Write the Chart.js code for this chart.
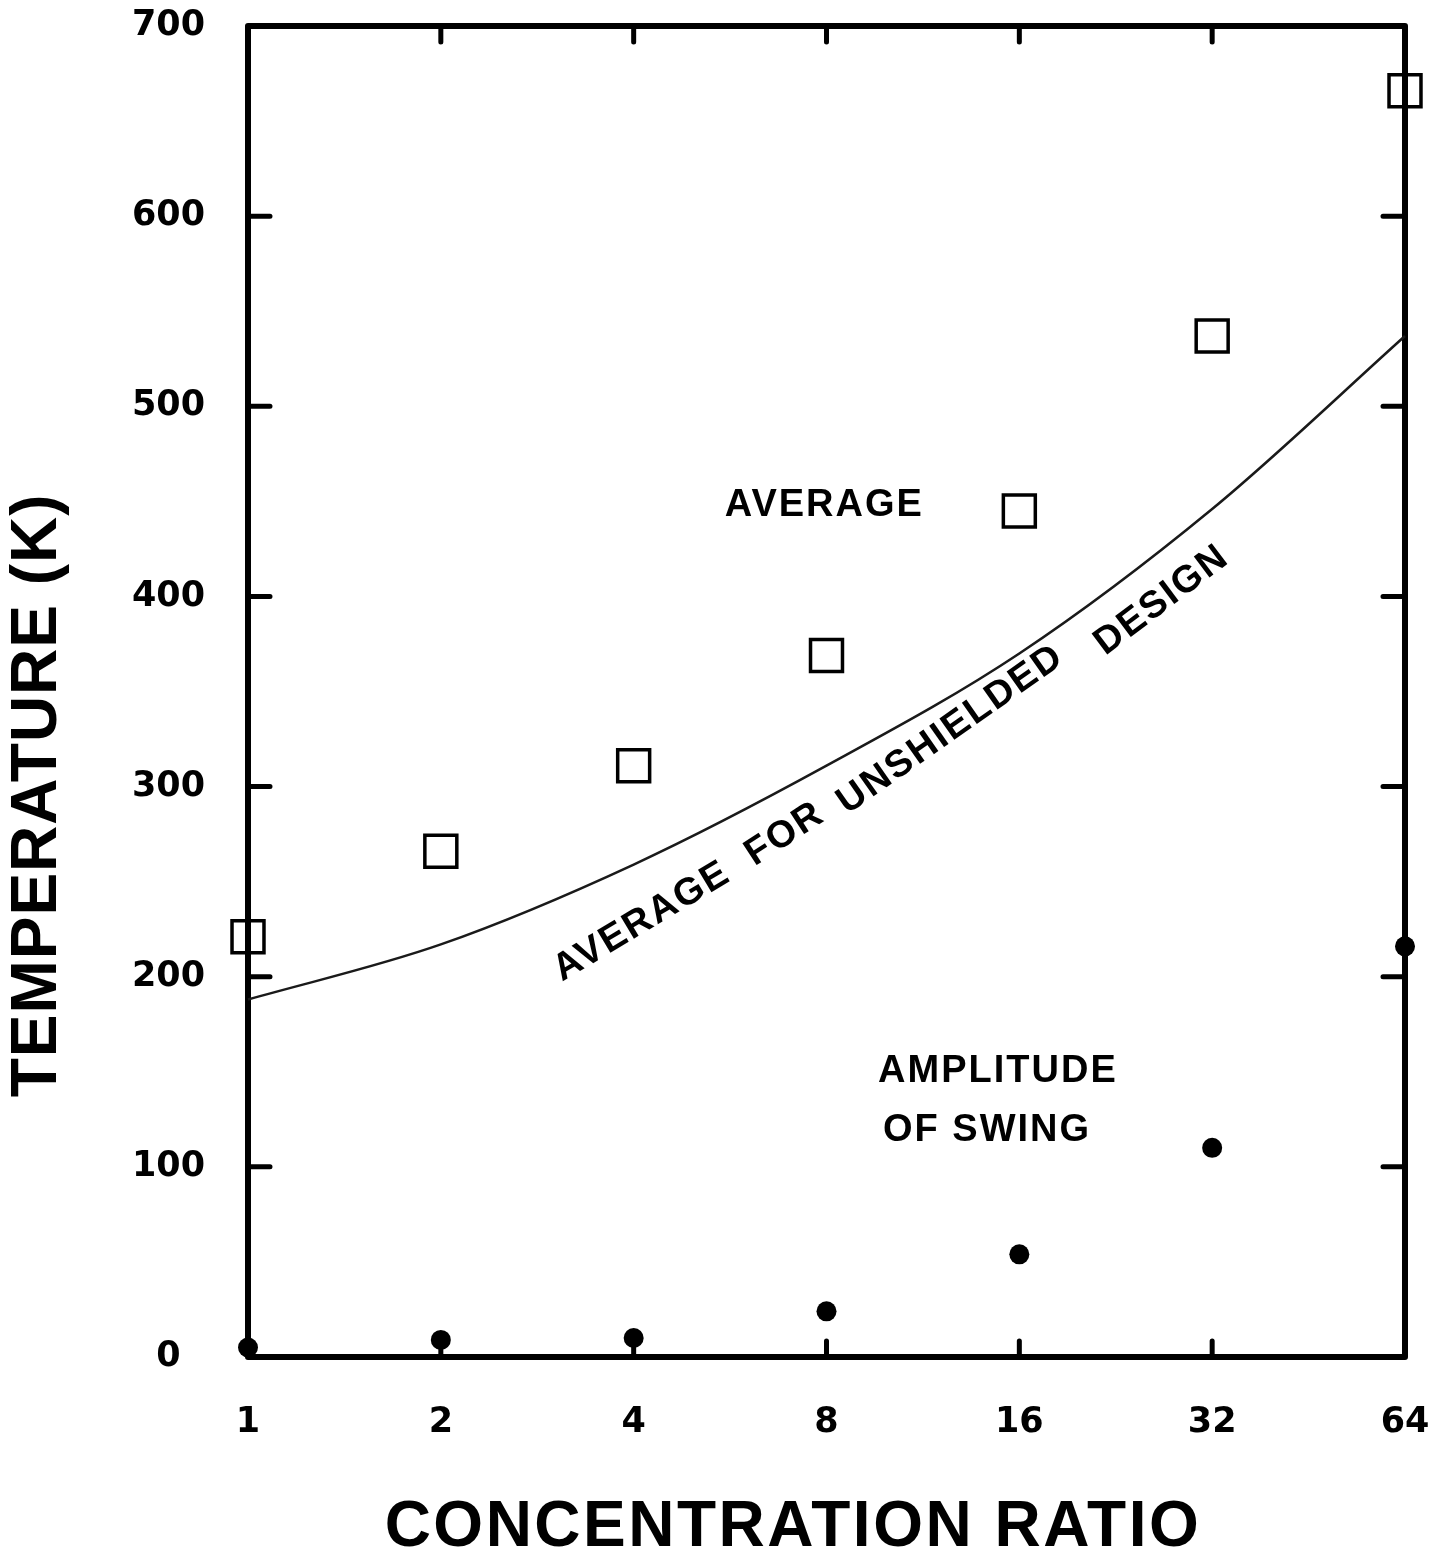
<!DOCTYPE html>
<html>
<head>
<meta charset="utf-8">
<script src="https://cdn.jsdelivr.net/npm/chart.js@4.4.1/dist/chart.umd.min.js"></script>
<style>
  html, body { margin: 0; padding: 0; background: #fff; }
  #wrap { width: 1441px; height: 1558px; }
</style>
</head>
<body>
<div id="wrap"><canvas id="chart" width="1441" height="1558"></canvas></div>
<script>
// concentration ratio (log2 axis)
const ratios = [1, 2, 4, 8, 16, 32, 64];
// temperatures in K
const averageTemps = [221, 266, 311, 369, 445, 537, 666];
const swingTemps = [5, 9, 10, 24, 54, 110, 216];
const unshieldedTemps = [188, 217, 259, 311, 370, 446, 537];
const yTicks = [0, 100, 200, 300, 400, 500, 600, 700];

// words of the curve label, placed in data coordinates
const curveWords = [
    { text: "AVERAGE", x: 4.12, y: 229, angle: -31 },
    { text: "FOR", x: 6.89, y: 275, angle: -33 },
    { text: "UNSHIELDED", x: 12.5, y: 330, angle: -35 },
    { text: "DESIGN", x: 26.7, y: 398, angle: -37 }
];

const notes = [
    { text: "AVERAGE", x: 5.55, y: 448 },
    { text: "AMPLITUDE", x: 9.63, y: 150 },
    { text: "OF SWING", x: 9.8, y: 119 }
];

const black = "#000";
const labelFont = "bold 38px 'Liberation Sans', Arial, sans-serif";

function points(values) {
    return ratios.map((r, i) => ({ x: r, y: values[i] }));
}

const framePlugin = {
    id: "frame",
    beforeDatasetsDraw(chart) {
        const { ctx, chartArea: a, scales } = chart;
        ctx.save();
        ctx.strokeStyle = black;
        ctx.lineCap = "round";

        // inward tick marks
        ctx.lineWidth = 5;
        yTicks.slice(1, -1).forEach(v => {
            const py = scales.y.getPixelForValue(v);
            ctx.beginPath();
            ctx.moveTo(a.left, py);
            ctx.lineTo(a.left + 22, py);
            ctx.moveTo(a.right, py);
            ctx.lineTo(a.right - 22, py);
            ctx.stroke();
        });
        ratios.slice(1, -1).forEach(v => {
            const px = scales.x.getPixelForValue(v);
            ctx.beginPath();
            ctx.moveTo(px, a.bottom);
            ctx.lineTo(px, a.bottom - 16);
            ctx.moveTo(px, a.top);
            ctx.lineTo(px, a.top + 16);
            ctx.stroke();
        });

        ctx.lineWidth = 6;
        ctx.lineJoin = "round";
        ctx.strokeRect(a.left, a.top, a.right - a.left, a.bottom - a.top);
        ctx.restore();
    },
    afterDatasetsDraw(chart) {
        const { ctx, chartArea: a, scales } = chart;
        ctx.save();
        ctx.fillStyle = black;
        ctx.font = labelFont;
        ctx.letterSpacing = "2px";
        ctx.textBaseline = "middle";

        ctx.textAlign = "left";
        notes.forEach(n => {
            ctx.fillText(n.text, scales.x.getPixelForValue(n.x), scales.y.getPixelForValue(n.y));
        });

        ctx.textAlign = "center";
        curveWords.forEach(w => {
            ctx.save();
            ctx.translate(scales.x.getPixelForValue(w.x), scales.y.getPixelForValue(w.y));
            ctx.rotate(w.angle * Math.PI / 180);
            ctx.fillText(w.text, 0, 0);
            ctx.restore();
        });

        // axis titles
        ctx.font = "bold 64px 'Liberation Sans', Arial, sans-serif";
        ctx.letterSpacing = "2.5px";
        ctx.fillText("CONCENTRATION RATIO", a.left + 0.471 * (a.right - a.left), a.bottom + 171);

        ctx.letterSpacing = "1px";
        ctx.save();
        ctx.translate(a.left - 210, a.top + 0.578 * (a.bottom - a.top));
        ctx.rotate(-Math.PI / 2);
        ctx.fillText("TEMPERATURE (K)", 0, 0);
        ctx.restore();

        ctx.restore();
    }
};

const tickFont = { family: "'DejaVu Sans', sans-serif", weight: "bold", size: 35 };

new Chart(document.getElementById("chart"), {
    type: "scatter",

    data: {
        datasets: [
            {
                type: "line",
                label: "Average for unshielded design",
                data: points(unshieldedTemps),
                borderColor: "#1a1a1a",
                borderWidth: 2.5,
                pointRadius: 0,
                cubicInterpolationMode: "monotone",
                fill: false,
                clip: false
            },
            {
                label: "Average",
                data: points(averageTemps),
                pointStyle: "rect",
                pointRadius: 22.6,
                borderColor: black,
                borderWidth: 3.5,
                backgroundColor: "rgba(0,0,0,0)",
                clip: false
            },
            {
                label: "Amplitude of swing",
                data: points(swingTemps),
                pointStyle: "circle",
                pointRadius: 10,
                borderWidth: 0,
                backgroundColor: black,
                clip: false
            }
        ]
    },

    options: {
        responsive: false,
        animation: false,

        layout: {
            padding: { left: 132, right: 36, top: 17, bottom: 0 }
        },

        plugins: {
            legend: { display: false },
            tooltip: { enabled: false }
        },

        scales: {
            x: {
                type: "logarithmic",
                min: 1,
                max: 64,
                afterBuildTicks: s => { s.ticks = ratios.map(v => ({ value: v })); },
                afterFit: s => {
                    s.height = 201;
                    s.paddingLeft = 0;
                    s.paddingRight = 0;
                },
                grid: { display: false, drawTicks: false },
                border: { display: false },
                ticks: {
                    color: black,
                    font: tickFont,
                    padding: 45,
                    autoSkip: false,
                    maxRotation: 0,
                    callback: v => String(v)
                }
            },

            y: {
                min: 0,
                max: 700,
                afterBuildTicks: s => { s.ticks = yTicks.map(v => ({ value: v })); },
                afterFit: s => {
                    s.width = 116;
                    s.paddingTop = 0;
                    s.paddingBottom = 0;
                },
                grid: { display: false, drawTicks: false },
                border: { display: false },
                ticks: {
                    color: black,
                    font: tickFont,
                    padding: 43,
                    crossAlign: "center"
                }
            }
        }
    },

    plugins: [framePlugin]
});
</script>
</body>
</html>
